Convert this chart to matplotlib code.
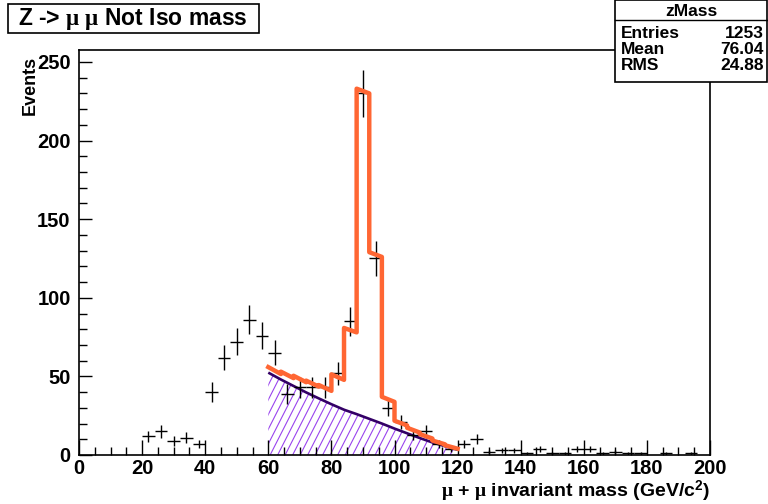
import matplotlib
matplotlib.use("Agg")
import matplotlib.pyplot as plt
import numpy as np
from matplotlib.patches import Rectangle
from matplotlib.lines import Line2D
from matplotlib.collections import LineCollection

# ---- data -------------------------------------------------------------
bin_width = 4.0
bin_centers = np.arange(2, 200, 4)
counts = [0, 0, 0, 0, 0, 12, 15, 9, 11, 7,
          40, 62, 72, 86, 76, 65, 39, 43, 43, 43,
          52, 85, 230, 125, 30, 21, 13, 15, 7, 4,
          7, 10, 2, 3, 3, 1, 4, 1, 1, 4,
          4, 1, 2, 1, 1, 0, 1, 0, 1, 0]

# fit range bin edges, background level at each edge, signal template per bin
fit_edges = np.arange(60, 121, 4)
bkg_at_edges = [52.4, 48.0, 43.9, 39.8, 36.0, 32.3, 28.8, 26.0,
                23.0, 20.0, 16.8, 13.8, 10.8, 8.0, 5.6, 3.4]
signal_template = [3.5, 5.0, 6.5, 7.5, 8.5, 19.0, 52.0, 207.0,
                   106.0, 17.0, 5.0, 3.5, 2.5, 1.2, 0.6]

stats_title = "zMass"
stats_rows = [("Entries", "1253"), ("Mean", "76.04"), ("RMS", "24.88")]

# ---- style ------------------------------------------------------------
plt.rcParams["font.family"] = ["Liberation Sans", "DejaVu Sans"]
plt.rcParams["font.weight"] = "bold"
plt.rcParams["mathtext.fontset"] = "custom"
plt.rcParams["mathtext.rm"] = "Liberation Sans:bold"
plt.rcParams["mathtext.bf"] = "Liberation Sans:bold"
plt.rcParams["mathtext.it"] = "Liberation Serif"

W, H = 768, 504
fig = plt.figure(figsize=(W / 100, H / 100), dpi=100)
ax = fig.add_axes([79 / W, 1 - 455 / H, (710 - 79) / W, (455 - 50) / H])

ax.set_xlim(0, 200)
ax.set_ylim(0, 257.6)

# background fill with slanted hatch lines
bkg_poly = ax.fill_between(fit_edges, 0, bkg_at_edges,
                           facecolor="none", edgecolor="none")
pos = ax.get_position()
pw, ph = pos.width * W, pos.height * H
theta = np.deg2rad(63)
spacing = 7.5
segs = []
x0 = -ph / np.tan(theta)
while x0 < pw:
    x1 = x0 + ph / np.tan(theta)
    segs.append([(x0 / pw, 0.0), (x1 / pw, 1.0)])
    x0 += spacing
hatch = LineCollection(segs, transform=ax.transAxes, colors="#9944ee",
                       linewidths=0.8, zorder=1)
ax.add_collection(hatch)
hatch.set_clip_path(bkg_poly.get_paths()[0], ax.transData)

# background curve
ax.plot(fit_edges, bkg_at_edges, color="#330066", lw=1.9, zorder=2,
        solid_capstyle="butt")

# full fit: background plus signal template, step-wise per bin
fx, fy = [], []
for i, s in enumerate(signal_template):
    fx += [fit_edges[i], fit_edges[i + 1]]
    fy += [bkg_at_edges[i] + s, bkg_at_edges[i + 1] + s]

# data points with error bars
cnt = np.array(counts, dtype=float)
mask = cnt > 0
ax.errorbar(bin_centers[mask], cnt[mask], yerr=np.sqrt(cnt[mask]),
            xerr=bin_width / 2, fmt="none", ecolor="black", elinewidth=1.0,
            capsize=0, zorder=3)

ax.plot(fx, fy, color="#ff6633", lw=3.2, zorder=4, solid_joinstyle="round")

# ---- axes -------------------------------------------------------------
for side in ("top", "right", "left", "bottom"):
    ax.spines[side].set_linewidth(1.2)
ax.set_xticks(np.arange(0, 201, 20))
ax.set_xticks(np.arange(0, 201, 5), minor=True)
ax.set_yticks(np.arange(0, 251, 50))
ax.set_yticks(np.arange(0, 251, 10), minor=True)
ax.tick_params(axis="both", which="both", direction="in", top=False,
               right=False, labelsize=14.5, width=1.0)
ax.tick_params(axis="x", which="major", length=11, pad=3)
ax.tick_params(axis="x", which="minor", length=6)
ax.tick_params(axis="y", which="major", length=9, pad=6)
ax.tick_params(axis="y", which="minor", length=6)
for lab in ax.get_xticklabels() + ax.get_yticklabels():
    lab.set_fontweight("bold")

fig.text(710 / W, 1 - 491 / H, r"$\mu$ + $\mu$ invariant mass (GeV/c$^{2}$)",
         ha="right", va="center", fontsize=14, fontweight="bold")
fig.text(30 / W, 1 - 56 / H, "Events", rotation=90, ha="center", va="top",
         fontsize=13, fontweight="bold")

# ---- title box ----------------------------------------------------------
fig.patches.append(Rectangle((8 / W, 1 - 33 / H), 251 / W, 29 / H,
                             transform=fig.transFigure, facecolor="white",
                             edgecolor="black", lw=1.2, zorder=5))
fig.text(18 / W, 1 - 19 / H, r"Z -> $\mu$ $\mu$ Not Iso mass", ha="left",
         va="center", fontsize=16.5, fontweight="bold", zorder=6)

# ---- statistics box -----------------------------------------------------
fig.patches.append(Rectangle((615 / W, 1 - 82 / H), 152 / W, 82 / H,
                             transform=fig.transFigure, facecolor="white",
                             edgecolor="black", lw=1.2, zorder=5))
fig.lines.append(Line2D([615 / W, 767 / W], [1 - 20 / H, 1 - 20 / H],
                        transform=fig.transFigure, color="black", lw=1.0,
                        zorder=6))
fig.text(691 / W, 1 - 11 / H, stats_title, ha="center", va="center",
         fontsize=12.5, fontweight="bold", zorder=6)
for row_y, (name, val) in zip((33, 49.5, 66), stats_rows):
    fig.text(621 / W, 1 - row_y / H, name, ha="left", va="center",
             fontsize=12.5, fontweight="bold", zorder=6)
    fig.text(764 / W, 1 - row_y / H, val, ha="right", va="center",
             fontsize=12.5, fontweight="bold", zorder=6)

fig.savefig("out.png", dpi=100)
